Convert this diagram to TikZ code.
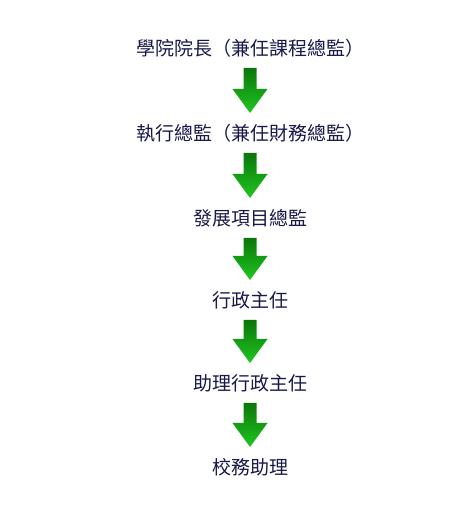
\documentclass[tikz,border=0pt]{standalone}
\usepackage{fontspec}
\setmainfont{Noto Sans CJK TC}
\usetikzlibrary{calc}
\definecolor{postblue}{HTML}{18184A}
\definecolor{arrowtop}{HTML}{0A760A}
\definecolor{arrowbot}{HTML}{20C620}
\newcommand{\flowarrow}[2]{%
  \shade[greenarrow] let \p1=(#1), \p2=(#2) in
    (\x1-6.5bp,\y1-20bp) -- (\x1+6.5bp,\y1-20bp) -- (\x1+6.5bp,\y2+44bp) -- (\x1+17.5bp,\y2+44bp)
    -- (\x1,\y2+20bp) -- (\x1-17.5bp,\y2+44bp) -- (\x1-6.5bp,\y2+44bp) -- cycle;}

\begin{document}
\begin{tikzpicture}[x=1bp,y=1bp]
    \tikzset{post/.style={inner sep=0pt,text=postblue,font=\fontsize{19bp}{22bp}\selectfont}}
    \tikzset{greenarrow/.style={top color=arrowtop,bottom color=arrowbot}}
    \useasboundingbox (0,0) rectangle (468,518);
    \draw (250,470) node[post](p1){學院院長（兼任課程總監）};
    \draw (250,385) node[post](p2){執行總監（兼任財務總監）};
    \draw (250,300) node[post](p3){發展項目總監};
    \draw (250,218) node[post](p4){行政主任};
    \draw (250,135) node[post](p5){助理行政主任};
    \draw (250,51) node[post](p6){校務助理};
    \flowarrow{p1}{p2}
    \flowarrow{p2}{p3}
    \flowarrow{p3}{p4}
    \flowarrow{p4}{p5}
    \flowarrow{p5}{p6}
\end{tikzpicture}
\end{document}
